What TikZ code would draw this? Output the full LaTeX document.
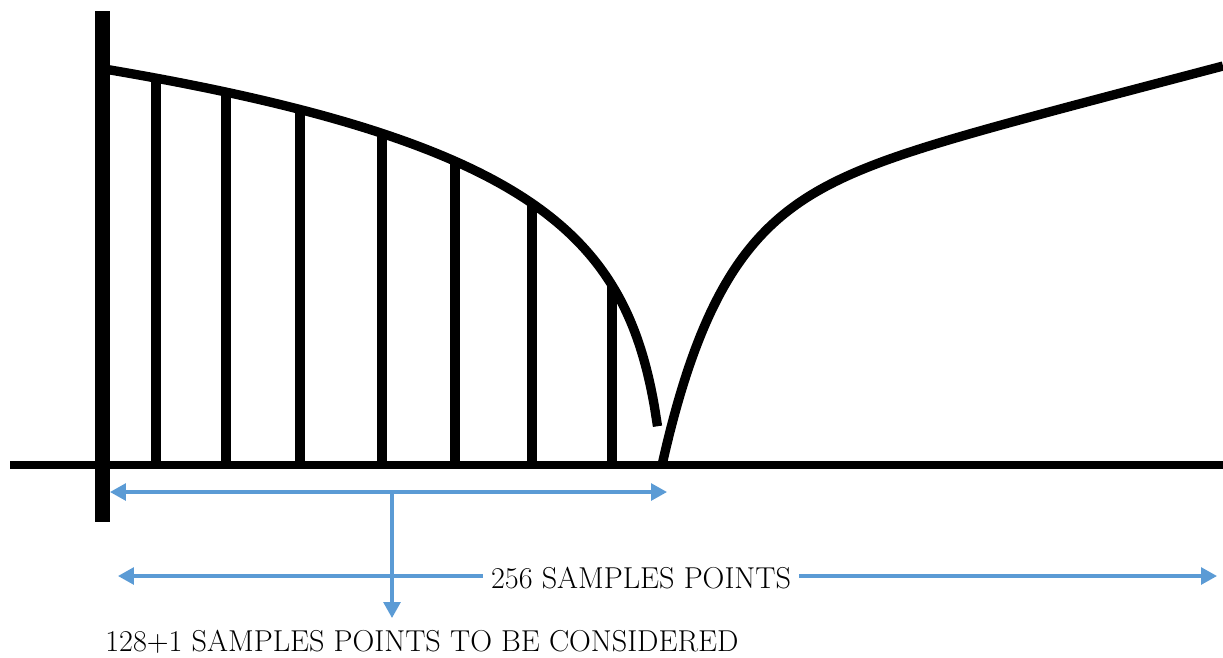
\documentclass[tikz,border=0pt]{standalone}
\usetikzlibrary{arrows.meta}
\definecolor{ablue}{RGB}{91,155,213}
\begin{document}
\begin{tikzpicture}[x=0.02cm,y=-0.02cm,
  axisline/.style={line width=9pt},
  baseline/.style={line width=4.5pt},
  curveline/.style={line width=5.3pt},
  sampleline/.style={line width=5.5pt},
  barrow/.style={ablue,line width=1.8pt,-{Triangle[length=9pt,width=9.5pt]}},
  dbarrow/.style={ablue,line width=1.8pt,{Triangle[length=9pt,width=9.5pt]}-{Triangle[length=9pt,width=9.5pt]}},
  lbl/.style={font=\fontsize{17.2}{20}\selectfont, inner sep=0pt},
  declare function={lefty(\t)=465-95.6*ln(1+(662-\t)/9);
                    righty(\t)=465-(252*(1-exp(-(\t-662)/60))+0.262*(\t-662));}]
\useasboundingbox (0,0) rectangle (1223,657);
% axes
\draw[baseline] (10,465) -- (1223,465);
\draw[axisline] (102.5,11) -- (102.5,522);
% sample lines
\foreach \x in {156,226,300,382,455,532,612}{
  \draw[sampleline] (\x,466) -- (\x,{lefty(\x)});
}
% curve, left branch
\draw[curveline] plot[smooth,domain=106:657.5,samples=160] (\x,{lefty(\x)});
% curve, right branch
\draw[curveline] plot[smooth,domain=662.5:1223,samples=160] (\x,{righty(\x)});
% blue arrows
\coordinate (a1l) at (110,492);
\coordinate (a1r) at (667,492);
\coordinate (a1m) at (392,492);
\coordinate (a1d) at (392,618);
\draw[dbarrow] (a1l) -- (a1r);
\draw[barrow] (a1m) -- (a1d);
\node[lbl, inner xsep=4.5pt] (t256) at (641,578) {256 SAMPLES POINTS};
\coordinate (a2l) at (118,576);
\coordinate (a2r) at (1217,576);
\draw[barrow] (t256.west |- a2l) -- (a2l);
\draw[barrow] (t256.east |- a2r) -- (a2r);
\node[lbl, anchor=west] (t129) at (105,642) {128+1 SAMPLES POINTS TO BE CONSIDERED};
\end{tikzpicture}
\end{document}
